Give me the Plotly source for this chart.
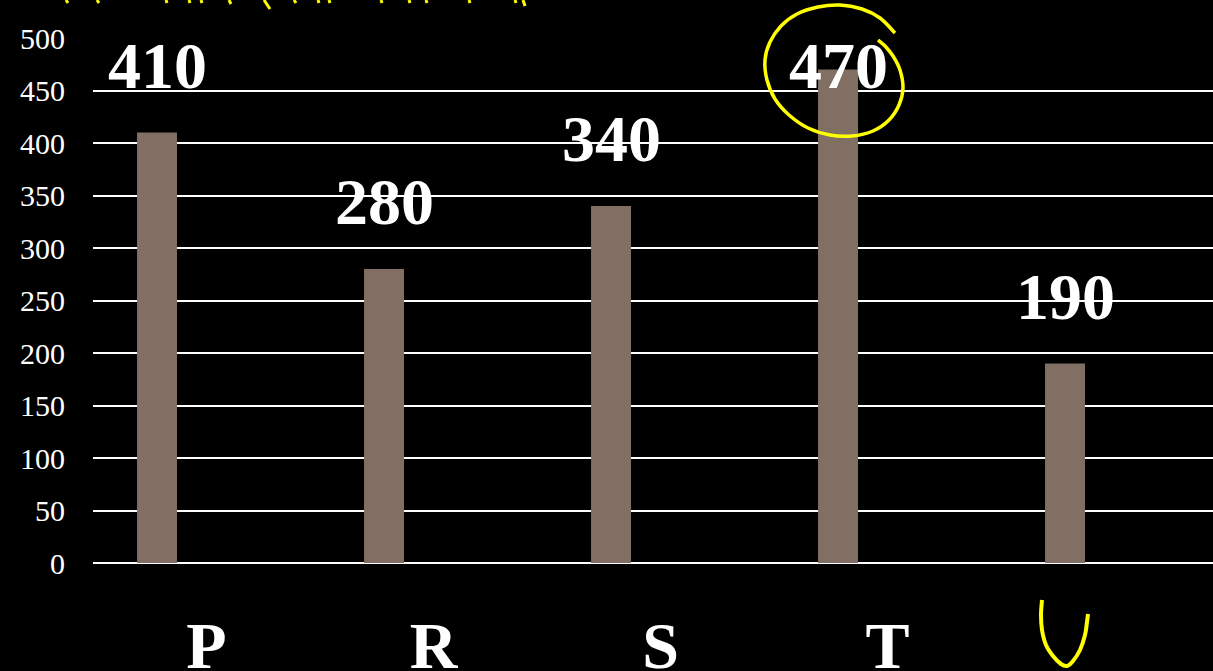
import math
import plotly.graph_objects as go

# ---- data ----
categories = ["P", "R", "S", "T", "U"]
values = [410, 280, 340, 470, 190]
tick_labels = ["P", "R", "S", "T", ""]   # "U" is hand-written in the original
y_tick_values = [0, 50, 100, 150, 200, 250, 300, 350, 400, 450, 500]

# ---- layout geometry ----
W, H = 1213, 671
M_L, M_T, M_B, M_R = 93, 38, 108, 0
PW = W - M_L - M_R
PH = H - M_T - M_B
SLOT = 227.0                      # px per category
X_MAX = -0.5 + PW / SLOT
BAR_W = 0.176
BAR_OFF = -0.306
BAR_CENTER = BAR_OFF + BAR_W / 2

SERIF = "Liberation Serif, Times New Roman, serif"
YELLOW = "#ffff00"


def px(x, y):
    """pixel position -> paper coords (for hand-drawn ink decoration)"""
    return (x - M_L) / PW, (H - M_B - y) / PH


def smooth_path(points):
    """Catmull-Rom through the points, as cubic bezier path in paper coords"""
    pts = [px(x, y) for x, y in points]
    n = len(pts)
    d = f"M {pts[0][0]:.5f},{pts[0][1]:.5f}"
    for i in range(n - 1):
        p0 = pts[i - 1] if i > 0 else pts[i]
        p1 = pts[i]
        p2 = pts[i + 1]
        p3 = pts[i + 2] if i + 2 < n else pts[i + 1]
        c1 = (p1[0] + (p2[0] - p0[0]) / 6, p1[1] + (p2[1] - p0[1]) / 6)
        c2 = (p2[0] - (p3[0] - p1[0]) / 6, p2[1] - (p3[1] - p1[1]) / 6)
        d += (f" C {c1[0]:.5f},{c1[1]:.5f} {c2[0]:.5f},{c2[1]:.5f}"
              f" {p2[0]:.5f},{p2[1]:.5f}")
    return d


fig = go.Figure()
fig.add_trace(go.Bar(
    x=categories, y=values,
    width=BAR_W, offset=BAR_OFF,
    marker=dict(color="#806f62", line=dict(width=0)),
    hoverinfo="x+y",
))

annotations = []
for i, v in enumerate(values):
    annotations.append(dict(
        x=i + BAR_CENTER, y=min(v + 64, 474), xref="x", yref="y",
        text=f"<b>{v}</b>", showarrow=False, yanchor="middle", xanchor="center",
        font=dict(family=SERIF, size=66, color="white"),
    ))

shapes = []
# hand-drawn loop around the 470 label
circ = [(895, 33), (880, 18), (862, 9), (840, 5), (818, 7), (797, 14), (781, 26),
        (770, 42), (765, 60), (767, 80), (775, 99), (789, 115), (808, 128),
        (830, 135), (852, 136), (873, 131), (889, 120), (899, 105), (903, 88),
        (900, 70), (893, 56), (885, 46), (878, 40)]
shapes.append(dict(type="path", xref="paper", yref="paper", path=smooth_path(circ),
                   line=dict(color=YELLOW, width=3.5)))

# hand-written "U"
u_pts = [(1042, 600), (1041, 615), (1042, 630), (1046, 645), (1053, 656),
         (1061, 664), (1067, 666), (1073, 661), (1080, 650), (1085, 635),
         (1087, 622), (1088, 614)]
shapes.append(dict(type="path", xref="paper", yref="paper", path=smooth_path(u_pts),
                   line=dict(color=YELLOW, width=4)))

# cut-off yellow scribbles at the very top
scribbles = [(66, 0, 68, 3), (97, 0, 99, 3), (166, 0, 167, 3), (189, 0, 190, 3),
             (201, 0, 202, 3), (229, 0, 231, 4), (264, 0, 270, 9), (294, 0, 296, 3),
             (318, 0, 319, 3), (329, 0, 330, 3), (381, 0, 382, 3), (409, 0, 410, 3),
             (426, 0, 427, 3), (469, 0, 470, 3), (515, 0, 516, 3), (523, 0, 525, 6)]
for x0, y0, x1, y1 in scribbles:
    a, b = px(x0, y0)
    c, e = px(x1, y1)
    shapes.append(dict(type="path", xref="paper", yref="paper",
                       path=f"M {a:.5f},{b:.5f} L {c:.5f},{e:.5f}",
                       line=dict(color=YELLOW, width=3)))

fig.update_layout(
    width=W, height=H,
    margin=dict(l=M_L, r=M_R, t=M_T, b=M_B, pad=0),
    paper_bgcolor="black", plot_bgcolor="black",
    showlegend=False,
    annotations=annotations,
    shapes=shapes,
    xaxis=dict(
        type="category", range=[-0.5, X_MAX],
        tickmode="array", tickvals=categories, ticktext=tick_labels,
        showgrid=False, showline=False, zeroline=False, ticks="",
        tickfont=dict(family=SERIF, size=66, color="white", weight="bold"),
        ticklabelstandoff=38, automargin=False, fixedrange=True,
    ),
    yaxis=dict(
        range=[0, 500], tickmode="array", tickvals=y_tick_values,
        showgrid=True, gridcolor="white", gridwidth=2,
        zeroline=True, zerolinecolor="white", zerolinewidth=2,
        showline=False, ticks="",
        tickfont=dict(family=SERIF, size=30, color="white"),
        ticklabelstandoff=27, automargin=False, fixedrange=True,
    ),
)

fig.write_html(
    "out.html",
    config={"displayModeBar": False},
    post_script="document.body.style.margin='0';document.body.style.background='black';",
)
